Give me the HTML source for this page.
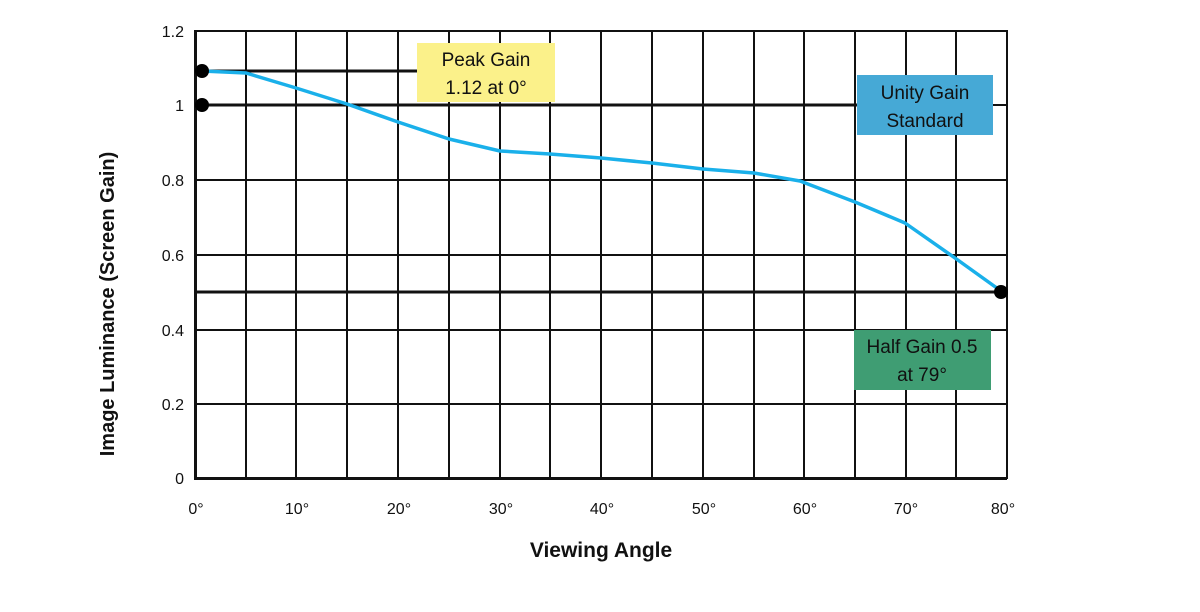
<!DOCTYPE html>
<html><head><meta charset="utf-8"><style>
html,body{margin:0;padding:0;background:#fff;}
svg{display:block;font-family:"Liberation Sans",sans-serif;}
</style></head><body>
<svg width="1200" height="612" viewBox="0 0 1200 612" xmlns="http://www.w3.org/2000/svg">
<rect width="1200" height="612" fill="#fff"/>
<g stroke="#111" stroke-width="2" fill="none">
<line x1="246" y1="30" x2="246" y2="479"/>
<line x1="296" y1="30" x2="296" y2="479"/>
<line x1="347" y1="30" x2="347" y2="479"/>
<line x1="398" y1="30" x2="398" y2="479"/>
<line x1="449" y1="30" x2="449" y2="479"/>
<line x1="500" y1="30" x2="500" y2="479"/>
<line x1="550" y1="30" x2="550" y2="479"/>
<line x1="601" y1="30" x2="601" y2="479"/>
<line x1="652" y1="30" x2="652" y2="479"/>
<line x1="703" y1="30" x2="703" y2="479"/>
<line x1="754" y1="30" x2="754" y2="479"/>
<line x1="804" y1="30" x2="804" y2="479"/>
<line x1="855" y1="30" x2="855" y2="479"/>
<line x1="906" y1="30" x2="906" y2="479"/>
<line x1="956" y1="30" x2="956" y2="479"/>
<line x1="1007" y1="30" x2="1007" y2="479"/>
<line x1="195" y1="31" x2="1007" y2="31"/>
<line x1="195" y1="180" x2="1007" y2="180"/>
<line x1="195" y1="255" x2="1007" y2="255"/>
<line x1="195" y1="330" x2="1007" y2="330"/>
<line x1="195" y1="404" x2="1007" y2="404"/>
<line x1="993" y1="105" x2="1007" y2="105"/>
</g>
<g stroke="#111" stroke-width="3">
<line x1="195" y1="105" x2="857" y2="105"/>
<line x1="195" y1="478.5" x2="1007" y2="478.5"/>
<line x1="195.5" y1="30" x2="195.5" y2="480"/>
<line x1="202" y1="71" x2="417" y2="71"/>
<line x1="195" y1="292" x2="1001" y2="292"/>
</g>
<polyline fill="none" stroke="#1ab0ea" stroke-width="3.5" stroke-linejoin="round" points="202,71 246,73 296,88 347,104 398,122 449,139 500,151 550,154 601,158 652,163 703,169 754,173 800,181 855,202 905,223 955,258 1001,291"/>
<circle cx="202" cy="71" r="7" fill="#000"/>
<circle cx="202" cy="105" r="7" fill="#000"/>
<circle cx="1001" cy="292" r="7" fill="#000"/>
<rect x="417" y="43" width="138" height="59" fill="#fbf18a"/>
<text x="486" y="66" font-size="19" text-anchor="middle" fill="#111">Peak Gain</text>
<text x="486" y="94" font-size="19" text-anchor="middle" fill="#111">1.12 at 0°</text>
<rect x="857" y="75" width="136" height="60" fill="#46a9d6"/>
<text x="925" y="99" font-size="19" text-anchor="middle" fill="#111">Unity Gain</text>
<text x="925" y="127" font-size="19" text-anchor="middle" fill="#111">Standard</text>
<rect x="854" y="330" width="137" height="60" fill="#3f9d73"/>
<text x="922" y="353" font-size="19" text-anchor="middle" fill="#111">Half Gain 0.5</text>
<text x="922" y="381" font-size="19" text-anchor="middle" fill="#111">at 79°</text>
<g font-size="16" fill="#111" text-anchor="end">
<text x="184" y="37">1.2</text>
<text x="184" y="111">1</text>
<text x="184" y="186">0.8</text>
<text x="184" y="261">0.6</text>
<text x="184" y="336">0.4</text>
<text x="184" y="410">0.2</text>
<text x="184" y="484">0</text>
</g>
<g font-size="16" fill="#111" text-anchor="middle">
<text x="196" y="514">0°</text>
<text x="297" y="514">10°</text>
<text x="399" y="514">20°</text>
<text x="501" y="514">30°</text>
<text x="602" y="514">40°</text>
<text x="704" y="514">50°</text>
<text x="805" y="514">60°</text>
<text x="906" y="514">70°</text>
<text x="1003" y="514">80°</text>
</g>
<text x="601" y="557" font-size="21" font-weight="bold" text-anchor="middle" fill="#111">Viewing Angle</text>
<text transform="translate(114,304) rotate(-90)" font-size="20" font-weight="bold" text-anchor="middle" fill="#111">Image Luminance (Screen Gain)</text>
</svg>
</body></html>
